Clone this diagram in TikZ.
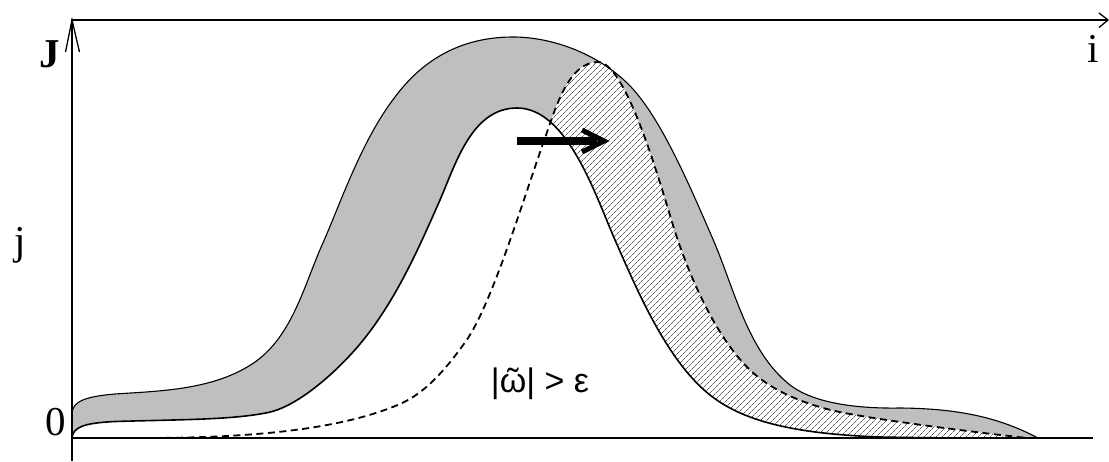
\documentclass[tikz,border=0pt]{standalone}
\usepackage{fontspec}
\setmainfont{Liberation Serif}
\newfontfamily\formfont{Liberation Sans}
\usetikzlibrary{patterns.meta}
\begin{document}
\begin{tikzpicture}[x=1pt,y=-1pt,
  axisline/.style={line width=1.6pt,line cap=butt},
  thinarm/.style={line width=1.3pt,line join=miter},
  outercurve/.style={line width=1.1pt},
  innercurve/.style={line width=1.6pt},
  dashcurve/.style={line width=1.8pt,dash pattern=on 7pt off 4.5pt},
  bandgray/.style={fill=black!25},
  hatch/.style={pattern={Lines[angle=45,distance=4pt,line width=0.45pt]},pattern color=black},
  lab/.style={font=\fontsize{41}{41}\selectfont,inner sep=0pt,anchor=base}]
\useasboundingbox (0,0) rectangle (1109,461);

\def\outerpath{(72,413) .. controls (73,401) and (86,396.5) .. (115,394)
  .. controls (160,391) and (215,390) .. (255,362)
  .. controls (292,336) and (304,286) .. (322,245)
  .. controls (340,205) and (361,141) .. (395,97)
  .. controls (424,58) and (463,37) .. (513,37)
  .. controls (553,37) and (596,54) .. (625,81)
  .. controls (658,111) and (688,182) .. (712,237)
  .. controls (734,287) and (747,351) .. (790,385)
  .. controls (818,406.5) and (870,408.5) .. (900,408)
  .. controls (960,408.5) and (1000,418) .. (1038,438)}
\def\innerpath{(72,438) .. controls (73,427) and (84,423) .. (115,421.5)
  .. controls (180,419.5) and (232,420) .. (268,412.5)
  .. controls (300,406) and (340,368) .. (360,344)
  .. controls (395,302) and (418,250) .. (440,200)
  .. controls (456,163) and (472,108) .. (517,108)
  .. controls (567,108) and (595,194) .. (615,240)
  .. controls (637,290) and (667,361) .. (710,395)
  .. controls (745,423) and (800,434) .. (880,437)
  .. controls (930,438) and (970,438) .. (1005,438)}
\def\dashpath{(153,438) .. controls (250,437.5) and (340,430) .. (400,404)
  .. controls (427.5,392) and (448.5,365.5) .. (466,341)
  .. controls (492,304.4) and (524.8,194.5) .. (545,138)
  .. controls (555,110) and (568,62) .. (598,62)
  .. controls (625,62) and (657.5,174) .. (672,222)
  .. controls (686.5,270) and (714,335.5) .. (750,370)
  .. controls (775,394) and (815,408) .. (850,414)
  .. controls (900,423) and (990,434) .. (1027,438)}

% --- regions
\begin{scope}
\clip \outerpath -- (72,438) -- cycle;
\fill[bandgray] (60,0) rectangle (1100,461);
\fill[white] \dashpath -- cycle;
\fill[hatch] \dashpath -- cycle;
\fill[white] \innerpath -- cycle;
\end{scope}

% --- curves
\draw[outercurve] \outerpath;
\draw[innercurve] \innerpath;
\draw[dashcurve] \dashpath;

% --- axes
\coordinate (vbot) at (72,461);
\coordinate (vtop) at (72,20);
\coordinate (htip) at (1108,20);
\coordinate (bl) at (72,438);
\coordinate (br) at (1093,438);
\coordinate (va1) at (65.5,52);
\coordinate (va2) at (79.5,52);
\coordinate (ha1) at (1099,13);
\coordinate (ha2) at (1099,27.5);
\draw[axisline] (vbot) -- (vtop) -- (htip);
\draw[axisline] (bl) -- (br);
\draw[thinarm] (va1) -- (vtop) -- (va2);
\draw[thinarm] (ha1) -- (htip) -- (ha2);

% --- shift arrow
\coordinate (s0) at (517,141);
\coordinate (s1) at (597,141);
\coordinate (c1) at (582,130);
\coordinate (c2) at (604,141);
\coordinate (c3) at (582,152);
\draw[line width=7.5pt] (s0) -- (s1);
\draw[line width=5pt,line join=miter] (c1) -- (c2) -- (c3);

% --- labels
\node[lab,font=\fontsize{41}{41}\selectfont\bfseries] (lJ) at (49.5,67) {J};
\node[lab] (li) at (1093,62) {i};
\node[lab] (lj) at (20,254) {j};
\node[lab] (l0) at (56,435) {0};
\node[inner sep=0pt,anchor=base,font=\formfont\fontsize{34}{34}\selectfont] (lw) at (540,392) {|\ooalign{ω\cr\hidewidth ˜\hidewidth\cr}| > ε};
\end{tikzpicture}
\end{document}
